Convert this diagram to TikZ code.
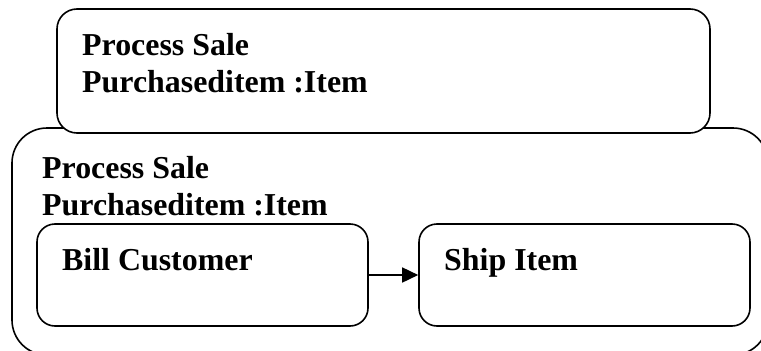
\documentclass[tikz,border=0pt]{standalone}
\usepackage{fontspec}
\setmainfont{Liberation Serif}
\usetikzlibrary{arrows.meta}
\tikzset{
  box/.style={draw, line width=1.6pt, fill=white, rectangle, inner sep=0pt},
  label text/.style={anchor=base west, inner sep=0pt,
    font=\fontsize{31.9}{37}\selectfont\bfseries},
  flow/.style={line width=1.6pt, -{Triangle[length=16pt,width=15pt]}}
}
\begin{document}
\begin{tikzpicture}[x=1pt, y=-1pt]
  \useasboundingbox (0,0) rectangle (761,351);
  % enclosing activity (runs past the page edge on the right and bottom)
  \node[box, rounded corners=35pt, minimum width=756pt, minimum height=227pt]
    (outer) at (390,241.5) {};
  % upper activity, drawn over the top edge of the enclosing one
  \node[box, rounded corners=20pt, minimum width=653pt, minimum height=124pt]
    (upper) at (383.5,71) {};
  \node[label text] (upperA) at (82,55) {Process Sale};
  \node[label text] (upperB) at (82,92) {Purchaseditem :Item};
  \node[label text] (outerA) at (42,178) {Process Sale};
  \node[label text] (outerB) at (42,215) {Purchaseditem :Item};
  % inner actions
  \node[box, rounded corners=18pt, minimum width=331pt, minimum height=102pt]
    (bill) at (202.5,275) {};
  \node[box, rounded corners=18pt, minimum width=331pt, minimum height=102pt]
    (ship) at (584.5,275) {};
  \node[label text] (billT) at (62,270) {Bill Customer};
  \node[label text] (shipT) at (444,270) {Ship Item};
  \draw[flow] (bill.east) -- (ship.west);
\end{tikzpicture}
\end{document}
